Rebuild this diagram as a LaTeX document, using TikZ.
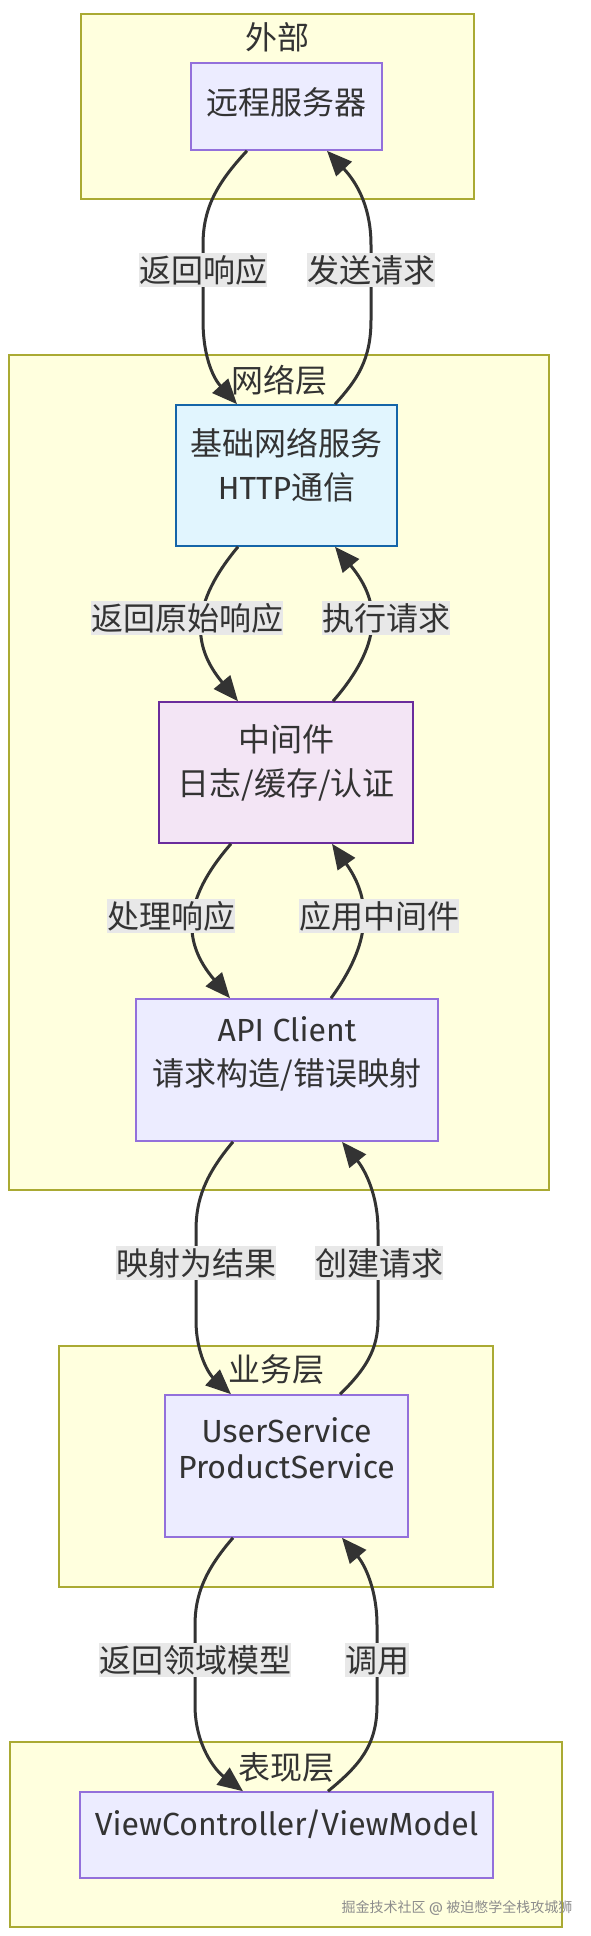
\documentclass[tikz,border=0pt]{standalone}
\usepackage{fontspec}
\setmainfont{Noto Sans CJK SC}
\newfontfamily\latin{Fira Sans}
\usepackage{tikz}
\usetikzlibrary{arrows.meta,calc}
\definecolor{Cluster}{HTML}{FFFFDE}
\definecolor{ClusterLine}{HTML}{AAAA33}
\definecolor{Node}{HTML}{ECECFF}
\definecolor{NodeLine}{HTML}{9370DB}
\definecolor{Net}{HTML}{E1F5FE}
\definecolor{NetLine}{HTML}{1565A8}
\definecolor{Mid}{HTML}{F3E5F5}
\definecolor{MidLine}{HTML}{6A2C9C}
\definecolor{Ink}{HTML}{333333}
\definecolor{Tag}{HTML}{E8E8E8}

\begin{document}
\begin{tikzpicture}[x=1pt,y=-1pt,font=\fontsize{32}{44}\selectfont,
  every node/.style={align=center,text=Ink},
  layer/.style={draw=ClusterLine,fill=Cluster,line width=2pt},
  box/.style={draw=NodeLine,fill=Node,line width=1.6pt,inner sep=0pt},
  txt/.style={inner sep=0pt},
  lat/.style={font=\latin\fontsize{32}{#1}\selectfont},
  tag/.style={fill=Tag,inner xsep=0pt,inner ysep=1pt,text height=28pt,text depth=4pt},
  flow/.style={draw=Ink,line width=3pt,-{Triangle[length=25pt,width=21pt]}}]
  \fill[white,use as bounding box] (0,0) rectangle (590,1936);

  \draw[layer] (81,14) rectangle (474,199);
  \draw[layer] (9,355) rectangle (549,1190);
  \draw[layer] (59,1346) rectangle (493,1587);
  \draw[layer] (10,1742) rectangle (562,1927);
  \node[txt] (ext-title) at (277.5,37) {外部};
  \node[txt] (net-title) at (279,380) {网络层};
  \node[txt] (biz-title) at (276,1369) {业务层};
  \node[txt] (ui-title) at (286,1767) {表现层};

  \node[box,minimum width=191pt,minimum height=87pt] (remote) at (286.5,106.5) {};
  \node[txt] (remote-t) at (286.5,102) {远程服务器};
  \node[box,draw=NetLine,fill=Net,minimum width=221pt,minimum height=141pt] (base) at (286.5,475.5) {};
  \node[txt] (base-t) at (286.5,465) {基础网络服务\\{\latin HTTP}通信};
  \node[box,draw=MidLine,fill=Mid,minimum width=254pt,minimum height=141pt] (mid) at (286,772.5) {};
  \node[txt] (mid-t) at (286,762.5) {中间件\\日志/缓存/认证};
  \node[box,minimum width=302pt,minimum height=142pt] (api) at (287,1070) {};
  \node[txt] (api-t) at (287,1054) {{\latin API Client}\\请求构造/错误映射};
  \node[box,minimum width=243pt,minimum height=142pt] (svc) at (286.5,1466) {};
  \node[txt,lat=36] (svc-t) at (286.5,1448) {UserService\\ProductService};
  \node[box,minimum width=413pt,minimum height=86pt] (view) at (286.5,1835) {};
  \node[txt,lat=44] (view-t) at (286.5,1824) {ViewController/ViewModel};

  \draw[flow] ($(remote.south)+(-39.5,0)$) .. controls (215,185) and (203,210) .. (203,245)
    -- (203,320) .. controls (203,360) and (215,380) .. ($(base.north)+(-49.5,0)$);
  \draw[flow] ($(base.north)+(48.5,0)$) .. controls (357,380) and (371,360) .. (371,320)
    -- (371,245) .. controls (371,210) and (359,185) .. ($(remote.south)+(40.5,0)$);
  \draw[flow] ($(base.south)+(-48.5,0)$) .. controls (191,603) and (191,645) .. ($(mid.north)+(-48,0)$);
  \draw[flow] ($(mid.north)+(47,0)$) .. controls (382,645) and (382,603) .. ($(base.south)+(48.5,0)$);
  \draw[flow] ($(mid.south)+(-55,0)$) .. controls (182,900) and (182,942) .. ($(api.north)+(-57,0)$);
  \draw[flow] ($(api.north)+(44,0)$) .. controls (372,942) and (372,900) .. ($(mid.south)+(46,0)$);
  \draw[flow] ($(api.south)+(-54,0)$) .. controls (205,1175) and (196,1200) .. (196,1230)
    -- (196,1320) .. controls (196,1355) and (210,1375) .. ($(svc.north)+(-55.5,0)$);
  \draw[flow] ($(svc.north)+(53.5,0)$) .. controls (365,1370) and (378,1350) .. (378,1320)
    -- (378,1230) .. controls (378,1195) and (365,1170) .. ($(api.south)+(55,0)$);
  \draw[flow] ($(svc.south)+(-53.5,0)$) .. controls (205,1570) and (195,1595) .. (195,1625)
    -- (195,1705) .. controls (195,1745) and (215,1770) .. ($(view.north)+(-43.5,0)$);
  \draw[flow] ($(view.north)+(41.5,0)$) .. controls (360,1765) and (377,1745) .. (377,1705)
    -- (377,1625) .. controls (377,1590) and (365,1565) .. ($(svc.south)+(55.5,0)$);

  \node[tag] (l1) at (203,270) {返回响应};
  \node[tag] (l2) at (371,270) {发送请求};
  \node[tag] (l3) at (187,618) {返回原始响应};
  \node[tag] (l4) at (386,618) {执行请求};
  \node[tag] (l5) at (171,916) {处理响应};
  \node[tag] (l6) at (379,916) {应用中间件};
  \node[tag] (l7) at (196,1263) {映射为结果};
  \node[tag] (l8) at (379,1263) {创建请求};
  \node[tag] (l9) at (195,1660) {返回领域模型};
  \node[tag] (l10) at (377,1660) {调用};

  \node[font=\fontsize{14}{16}\selectfont,text=black!45] (mark) at (457,1908) {掘金技术社区 {\latin @} 被迫憋学全栈攻城狮};
\end{tikzpicture}
\end{document}
